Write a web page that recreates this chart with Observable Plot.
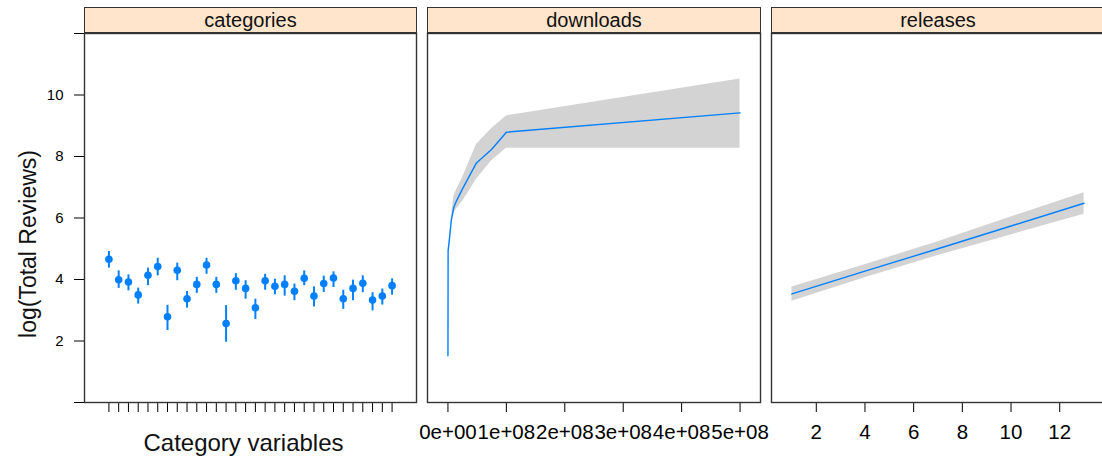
<!DOCTYPE html>
<html>
<head>
<meta charset="utf-8">
<script src="https://cdn.jsdelivr.net/npm/d3@7"></script>
<script src="https://cdn.jsdelivr.net/npm/@observablehq/plot@0.6"></script>
<style>
  html, body { margin: 0; padding: 0; background: #fff; }
  #fig { position: relative; width: 1102px; height: 457px; overflow: hidden; font-family: "Liberation Sans", Arial, sans-serif; }
  .panel { position: absolute; top: 0; }
  .strip {
    position: absolute; top: 7px; height: 26px; box-sizing: border-box;
    background: #ffe5cc; border: 1.4px solid #333;
    font-size: 20px; line-height: 24px; text-align: center; color: #111;
  }
</style>
</head>
<body>
<div id="fig"></div>
<script>
// Effect of each predictor on log(Total Reviews), with confidence bands.

const yTicks = [0, 2, 4, 6, 8, 10, 12];

// categories: one estimate and interval per category variable
const categoryIndex = [1, 2, 3, 4, 5, 6, 7, 8, 9, 10, 11, 12, 13, 14, 15, 16, 17, 18, 19, 20, 21, 22, 23, 24, 25, 26, 27, 28, 29, 30];
const categoryFit   = [4.66, 3.99, 3.92, 3.50, 4.14, 4.42, 2.79, 4.30, 3.37, 3.84, 4.47, 3.84, 2.57, 3.96, 3.71, 3.08, 3.96, 3.78, 3.84, 3.62, 4.04, 3.46, 3.87, 4.05, 3.37, 3.71, 3.88, 3.33, 3.46, 3.80];
const categoryUpper = [4.91, 4.28, 4.15, 3.72, 4.37, 4.69, 3.16, 4.53, 3.61, 4.07, 4.69, 4.07, 3.15, 4.19, 3.96, 3.36, 4.17, 4.01, 4.12, 3.85, 4.28, 3.76, 4.11, 4.25, 3.65, 3.98, 4.12, 3.57, 3.69, 4.02];
const categoryLower = [4.37, 3.71, 3.63, 3.20, 3.80, 4.12, 2.34, 3.96, 3.07, 3.55, 4.17, 3.55, 1.96, 3.65, 3.36, 2.70, 3.65, 3.50, 3.46, 3.31, 3.80, 3.11, 3.58, 3.74, 3.03, 3.31, 3.57, 2.98, 3.17, 3.49];

// downloads effect
const downloads      = [0, 3e5, 2.9e6, 5.8e6, 9.8e6, 1.44e7, 2.58e7, 4.88e7, 7.46e7, 1.0e8, 5.0e8];
const downloadsFit   = [1.52, 4.93, 5.38, 5.92, 6.33, 6.55, 6.98, 7.79, 8.23, 8.79, 9.42];
const downloadsLower = [1.52, 4.91, 5.33, 5.84, 6.15, 6.28, 6.56, 7.26, 7.85, 8.27, 8.27];
const downloadsUpper = [1.52, 4.95, 5.45, 6.02, 6.68, 6.90, 7.35, 8.39, 8.90, 9.32, 10.52];
const downloadsTicks = [0, 1e8, 2e8, 3e8, 4e8, 5e8];
const downloadsTickLabels = ["0e+00", "1e+08", "2e+08", "3e+08", "4e+08", "5e+08"];

// releases effect
const releases      = [1, 4, 7, 10, 13];
const releasesFit   = [3.53, 4.27, 5.00, 5.74, 6.48];
const releasesLower = [3.29, 4.06, 4.78, 5.45, 6.12];
const releasesUpper = [3.76, 4.48, 5.23, 6.03, 6.82];
const releasesTicks = [2, 4, 6, 8, 10, 12];

const panelTitles = ["categories", "downloads", "releases"];

const categoryRows = categoryIndex.map((c, i) => ({c, fit: categoryFit[i], lo: categoryLower[i], hi: categoryUpper[i]}));
const downloadRows = downloads.map((d, i) => ({x: d, fit: downloadsFit[i], lo: downloadsLower[i], hi: downloadsUpper[i]}));
const releaseRows = releases.map((r, i) => ({x: r, fit: releasesFit[i], lo: releasesLower[i], hi: releasesUpper[i]}));

const BLUE = "#0080ff";
const BAND = "#d3d3d3";
const FONT = "Liberation Sans, Arial, sans-serif";
const H = 457, TOP = 33, BOTTOM = 55;

const fig = document.getElementById("fig");

function place(svg, left) {
  svg.classList.add("panel");
  svg.style.left = left + "px";
  fig.appendChild(svg);
}
function strip(text, left, width) {
  const d = document.createElement("div");
  d.className = "strip";
  d.style.left = left + "px";
  d.style.width = width + "px";
  d.textContent = text;
  fig.appendChild(d);
}

const yScale = {
  domain: [0, 12], ticks: yTicks, tickSize: 10, tickPadding: 11,
  tickFormat: d => (d === 0 || d === 12) ? "" : String(d), label: null
};

// Panel 1: categories
const p1 = Plot.plot({
  width: 418, height: H,
  marginLeft: 84, marginRight: 2, marginTop: TOP, marginBottom: BOTTOM,
  style: {fontFamily: FONT, fontSize: "15px", color: "#000", background: "transparent", overflow: "visible"},
  x: {domain: [-1.5, 32.5], ticks: categoryIndex, tickSize: 10, tickFormat: () => "", label: null},
  y: yScale,
  marks: [
    Plot.ruleX(categoryRows, {x: "c", y1: "lo", y2: "hi", stroke: BLUE, strokeWidth: 2}),
    Plot.dot(categoryRows, {x: "c", y: "fit", r: 3.8, fill: BLUE, stroke: null}),
    Plot.frame({stroke: "#333", strokeWidth: 1.4}),
    Plot.text(["Category variables"], {frameAnchor: "bottom", lineAnchor: "bottom", dy: 48, dx: -7, fontSize: 24, fill: "#111"}),
    Plot.text(["log(Total Reviews)"], {frameAnchor: "left", textAnchor: "middle", lineAnchor: "middle", rotate: -90, dx: -56, dy: 26, fontSize: 23, fill: "#111"})
  ]
});
place(p1, 0);
strip(panelTitles[0], 84, 333);

// Panel 2: downloads
const p2 = Plot.plot({
  width: 344, height: H,
  marginLeft: 9, marginRight: 2, marginTop: TOP, marginBottom: BOTTOM,
  style: {fontFamily: FONT, fontSize: "20.5px", color: "#000", background: "transparent", overflow: "visible"},
  x: {domain: [-0.35e8, 5.35e8], ticks: downloadsTicks, tickSize: 10, tickPadding: 12,
      tickFormat: (d, i) => downloadsTickLabels[i], label: null},
  y: {domain: [0, 12], axis: null},
  marks: [
    Plot.areaY(downloadRows, {x: "x", y1: "lo", y2: "hi", fill: BAND}),
    Plot.lineY(downloadRows, {x: "x", y: "fit", stroke: BLUE, strokeWidth: 1.4}),
    Plot.frame({stroke: "#333", strokeWidth: 1.4})
  ]
});
place(p2, 418);
strip(panelTitles[1], 427, 334);

// Panel 3: releases
const p3 = Plot.plot({
  width: 344, height: H,
  marginLeft: 9, marginRight: 2, marginTop: TOP, marginBottom: BOTTOM,
  style: {fontFamily: FONT, fontSize: "20.5px", color: "#000", background: "transparent", overflow: "visible"},
  x: {domain: [0.16, 13.84], ticks: releasesTicks, tickSize: 10, tickPadding: 12, label: null},
  y: {domain: [0, 12], axis: null},
  marks: [
    Plot.areaY(releaseRows, {x: "x", y1: "lo", y2: "hi", fill: BAND}),
    Plot.lineY(releaseRows, {x: "x", y: "fit", stroke: BLUE, strokeWidth: 1.4}),
    Plot.frame({stroke: "#333", strokeWidth: 1.4})
  ]
});
place(p3, 762);
strip(panelTitles[2], 771, 334);
</script>
</body>
</html>
